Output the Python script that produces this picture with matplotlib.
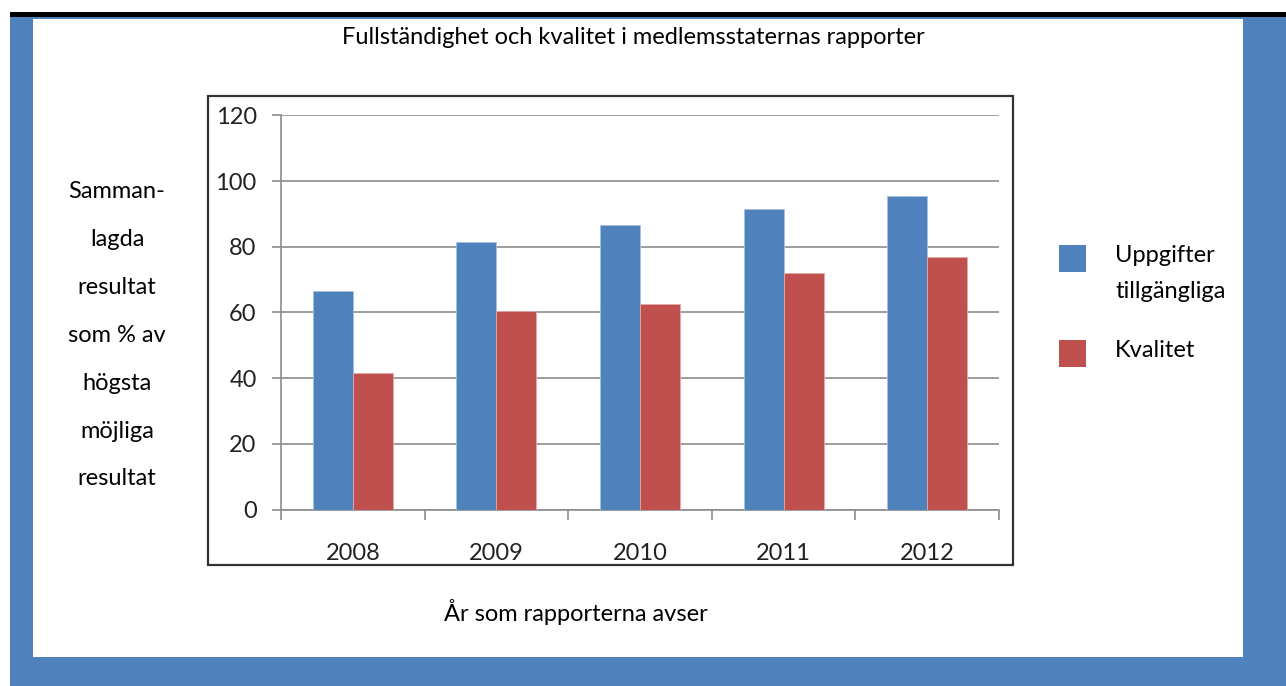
import numpy as np
import matplotlib
matplotlib.use("Agg")
import matplotlib.pyplot as plt
from matplotlib.patches import Rectangle

plt.rcParams['font.family'] = ['Lato', 'DejaVu Sans']

# data
years = ['2008', '2009', '2010', '2011', '2012']
uppgifter = [66.5, 81.5, 86.5, 91.5, 95.5]
kvalitet = [41.5, 60.5, 62.5, 72, 77]
serier = ['Uppgifter\ntillgängliga', 'Kvalitet']
farger = ['#4F81BD', '#C0504D']

W, H = 1286, 686
fig = plt.figure(figsize=(W / 100, H / 100), dpi=100)
fig.patch.set_facecolor('white')

def px(x0, y0, x1, y1):
    # pixelbox -> figure-koordinater
    return (x0 / W, 1 - y1 / H), (x1 - x0) / W, (y1 - y0) / H

# ram runt bilden
for box, col in [((10, 17, 1286, 686), '#4F81BD'),
                 ((33, 19, 1243, 657), 'white'),
                 ((10, 12, 1286, 17), 'black')]:
    xy, w, h = px(*box)
    fig.patches.append(Rectangle(xy, w, h, transform=fig.transFigure,
                                 facecolor=col, edgecolor='none', zorder=-2))

# diagramruta
xy, w, h = px(208, 96, 1013, 565)
fig.patches.append(Rectangle(xy, w, h, transform=fig.transFigure,
                             facecolor='none', edgecolor='#333333', lw=1.6, zorder=-1))

ax = fig.add_axes([281 / W, 1 - 509.5 / H, 718 / W, 394.2 / H])
ax.set_facecolor('none')
ax.set_zorder(5)

x = np.arange(len(years))
bw = 0.279
ax.bar(x - bw / 2, uppgifter, bw, color=farger[0], edgecolor='#A7C0DE', lw=0.6, zorder=3)
ax.bar(x + bw / 2, kvalitet, bw, color=farger[1], edgecolor='#E3A9A8', lw=0.6, zorder=3)

ax.set_xlim(-0.5, len(years) - 0.5)
ax.set_ylim(0, 120)
ax.set_yticks(np.arange(0, 121, 20))
ax.yaxis.grid(True, color='#8C8C8C', lw=1.2, zorder=0)
ax.set_axisbelow(True)

for s in ['top', 'right']:
    ax.spines[s].set_visible(False)
for s in ['left', 'bottom']:
    ax.spines[s].set_color('#8C8C8C')
    ax.spines[s].set_linewidth(1.2)

ax.tick_params(axis='y', length=6.5, color='#8C8C8C', width=1.2, pad=11,
               labelsize=17, labelcolor='#222222')
ax.set_xticks(x)
ax.set_xticklabels(years)
ax.set_xticks(np.arange(-0.5, len(years), 1), minor=True)
ax.tick_params(axis='x', which='major', length=0, pad=24, labelsize=17, labelcolor='#222222')
ax.tick_params(axis='x', which='minor', length=7, color='#8C8C8C', width=1.2)

# texter
fs = 17
fig.text(633 / W, 1 - 37 / H, 'Fullständighet och kvalitet i medlemsstaternas rapporter',
         ha='center', va='center', fontsize=fs)
fig.text(576 / W, 1 - 612 / H, 'År som rapporterna avser', ha='center', va='center', fontsize=fs)

ylab = ['Samman-', 'lagda', 'resultat', 'som % av', 'högsta', 'möjliga', 'resultat']
for i, t in enumerate(ylab):
    fig.text(117 / W, 1 - (192 + i * 47.8) / H, t, ha='center', va='center', fontsize=fs)

# förklaring
leg_y = [245, 340]
for name, col, y0 in zip(serier, farger, leg_y):
    xy, w, h = px(1059, y0, 1086, y0 + 27)
    fig.patches.append(Rectangle(xy, w, h, transform=fig.transFigure,
                                 facecolor=col, edgecolor='none', zorder=2))
fig.text(1115 / W, 1 - 255 / H, 'Uppgifter', va='center', fontsize=fs)
fig.text(1115 / W, 1 - 292 / H, 'tillgängliga', va='center', fontsize=fs)
fig.text(1115 / W, 1 - 351 / H, 'Kvalitet', va='center', fontsize=fs)

fig.savefig('out.png', dpi=100)
